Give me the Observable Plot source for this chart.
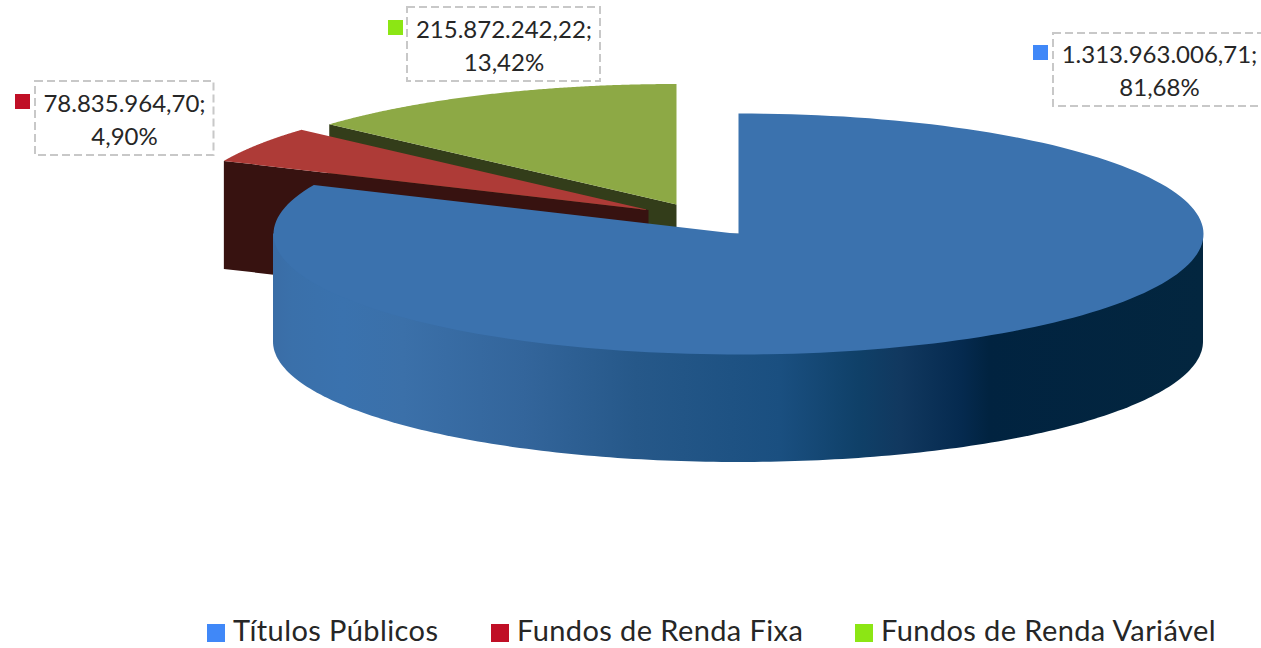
<!DOCTYPE html>
<html>
<head>
<meta charset="utf-8">
<script src="https://cdn.jsdelivr.net/npm/d3@7"></script>
<script src="https://cdn.jsdelivr.net/npm/@observablehq/plot@0.6"></script>
<style>
html,body{margin:0;padding:0;background:#fff;overflow:hidden}
#chart svg{display:block}
#legend{position:relative;height:36px;font:29px Lato,sans-serif;color:#262626}
#legend span{position:absolute;white-space:nowrap;top:0;line-height:36px;letter-spacing:.4px}
#legend i{position:absolute;width:18px;height:18px;top:12px}
</style>
</head>
<body>
<div id="chart"></div>
<div id="legend"></div>
<script>
const categories = ["Títulos Públicos", "Fundos de Renda Fixa", "Fundos de Renda Variável"];
const values = [1313963006.71, 78835964.70, 215872242.22];
const valueLabels = ["1.313.963.006,71;", "78.835.964,70;", "215.872.242,22;"];
const percentLabels = ["81,68%", "4,90%", "13,42%"];
const legendColors = ["#4088f8", "#c00f26", "#8ce614"];
const topColors = ["#3b72ae", "#ae3b37", "#8da945"];
const wallColors = ["url(#wall)", "#371210", "#333d1a"];

const W = 1261, H = 612;
const rx = 465, ry = 120.5, depth = 108;
// pie centre of every slice after its explosion
const centres = [[738, 233.5], [648, 209.5], [676, 204]];
const total = d3.sum(values);
const cum = d3.cumsum(values);
const angle = i => [(i ? cum[i - 1] : 0) / total * 2 * Math.PI, cum[i] / total * 2 * Math.PI];
const rim = (i, t) => ({x: centres[i][0] + rx * Math.sin(t), y: centres[i][1] - ry * Math.cos(t)});
const arcPts = (i, a, b) => d3.range(0, 181).map(k => rim(i, a + (b - a) * k / 180));
const topFace = i => {
  const [a, b] = angle(i);
  return [{x: centres[i][0], y: centres[i][1]}, ...arcPts(i, a, b)];
};
// cut face along the slice's starting edge
const cutFace = (i, t) => {
  const p = rim(i, t), c = {x: centres[i][0], y: centres[i][1]};
  return [c, p, {x: p.x, y: p.y + depth}, {x: c.x, y: c.y + depth}];
};
// the wall starts under the top face, so that no seam shows along the rim
const blueWall = arcPts(0, Math.PI / 2, 3 * Math.PI / 2).map(p => ({x: p.x, y1: centres[0][1], y2: p.y + depth}));

const gradient = () => {
  const ns = "http://www.w3.org/2000/svg";
  const defs = document.createElementNS(ns, "defs");
  const g = document.createElementNS(ns, "linearGradient");
  g.setAttribute("id", "wall");
  g.setAttribute("gradientUnits", "userSpaceOnUse");
  g.setAttribute("x1", 273); g.setAttribute("x2", 1203);
  g.setAttribute("y1", 0); g.setAttribute("y2", 0);
  [[0, "#3a6da6"], [0.02, "#3a70aa"], [0.075, "#3a72ae"], [0.14, "#3b70a9"], [0.27, "#33659b"],
   [0.39, "#265889"], [0.545, "#1a4f80"], [0.63, "#0f4068"], [0.675, "#11385f"], [0.74, "#052a4f"],
   [0.77, "#012340"], [1, "#03263f"]]
    .forEach(([o, c]) => {
      const s = document.createElementNS(ns, "stop");
      s.setAttribute("offset", o); s.setAttribute("stop-color", c);
      g.appendChild(s);
    });
  defs.appendChild(g);
  return defs;
};

const face = (pts, fill) => Plot.line(pts, {x: "x", y: "y", fill, stroke: "none", curve: "linear-closed"});
const labelBoxes = [
  {x1: 1053, x2: 1275, y1: 33, y2: 106, cx: 1159, b1: 62, b2: 95, sx: 1033, sy: 45},
  {x1: 35, x2: 213.5, y1: 81, y2: 155, cx: 124, b1: 111, b2: 144, sx: 15, sy: 94},
  {x1: 407, x2: 600, y1: 7, y2: 81, cx: 503.5, b1: 37, b2: 70, sx: 388, sy: 20}
].map((b, i) => ({...b, value: valueLabels[i], pct: percentLabels[i], color: legendColors[i]}));

const textOpts = {x: "cx", fontSize: 24, fontFamily: "Lato", fill: "#262626", textAnchor: "middle", lineAnchor: "bottom"};
const chart = Plot.plot({
  width: W, height: H, margin: 0,
  x: {domain: [0, W], range: [0, W], axis: null},
  y: {domain: [0, H], range: [0, H], axis: null},
  marks: [
    gradient,
    face(cutFace(2, angle(2)[0]), wallColors[2]),
    face(topFace(2), topColors[2]),
    face(cutFace(1, angle(1)[0]), wallColors[1]),
    face(topFace(1), topColors[1]),
    Plot.areaY(blueWall, {x: "x", y1: "y1", y2: "y2", fill: wallColors[0]}),
    face(topFace(0), topColors[0]),
    Plot.rect(labelBoxes, {x1: "x1", x2: "x2", y1: "y1", y2: "y2", fill: "none", stroke: "#c8c8c8", strokeWidth: 2, strokeDasharray: "8,4"}),
    Plot.rect(labelBoxes, {x1: "sx", x2: d => d.sx + 15, y1: "sy", y2: d => d.sy + 15, fill: "color"}),
    Plot.text(labelBoxes, {...textOpts, y: "b1", text: "value"}),
    Plot.text(labelBoxes, {...textOpts, y: "b2", text: "pct"})
  ]
});
document.getElementById("chart").appendChild(chart);

const legendSwatchX = [207, 491, 855];
const legend = document.getElementById("legend");
categories.forEach((c, i) => {
  const sw = document.createElement("i");
  sw.style.left = legendSwatchX[i] + "px";
  sw.style.background = legendColors[i];
  legend.appendChild(sw);
  const t = document.createElement("span");
  t.style.left = (legendSwatchX[i] + 26) + "px";
  t.textContent = c;
  legend.appendChild(t);
});
</script>
</body>
</html>
